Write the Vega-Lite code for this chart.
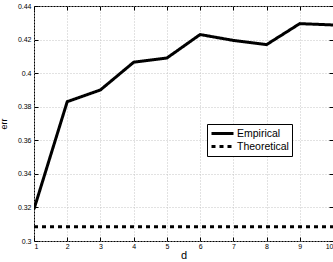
{
  "$schema": "https://vega.github.io/schema/vega-lite/v6.json",
  "autosize": "none",
  "width": 299,
  "height": 235,
  "padding": {"left": 34, "top": 6, "right": 0, "bottom": 21},
  "background": "white",
  "config": {
    "font": "Liberation Sans",
    "view": {"stroke": "black", "strokeWidth": 1}
  },
  "data": {
    "values": [
      {"d": 1, "err": 0.319, "series": "Empirical"},
      {"d": 2, "err": 0.383, "series": "Empirical"},
      {"d": 3, "err": 0.390, "series": "Empirical"},
      {"d": 4, "err": 0.4065, "series": "Empirical"},
      {"d": 5, "err": 0.409, "series": "Empirical"},
      {"d": 6, "err": 0.423, "series": "Empirical"},
      {"d": 7, "err": 0.4195, "series": "Empirical"},
      {"d": 8, "err": 0.417, "series": "Empirical"},
      {"d": 9, "err": 0.4295, "series": "Empirical"},
      {"d": 10, "err": 0.4287, "series": "Empirical"},
      {"d": 1, "err": 0.3085, "series": "Theoretical"},
      {"d": 2, "err": 0.3085, "series": "Theoretical"},
      {"d": 3, "err": 0.3085, "series": "Theoretical"},
      {"d": 4, "err": 0.3085, "series": "Theoretical"},
      {"d": 5, "err": 0.3085, "series": "Theoretical"},
      {"d": 6, "err": 0.3085, "series": "Theoretical"},
      {"d": 7, "err": 0.3085, "series": "Theoretical"},
      {"d": 8, "err": 0.3085, "series": "Theoretical"},
      {"d": 9, "err": 0.3085, "series": "Theoretical"},
      {"d": 10, "err": 0.3085, "series": "Theoretical"}
    ]
  },
  "resolve": {"axis": {"x": "independent", "y": "independent"}},
  "layer": [
    {
      "mark": {"type": "line", "strokeWidth": 3, "clip": true},
      "encoding": {
        "x": {
          "field": "d", "type": "quantitative",
          "scale": {"domain": [1, 10], "nice": false},
          "axis": {
            "orient": "bottom", "values": [1,2,3,4,5,6,7,8,9,10],
            "title": "d", "titleFontSize": 11, "titleFontWeight": "normal", "titlePadding": 0,
            "labelFontSize": 7, "labelPadding": 5, "tickSize": -4, "tickColor": "black",
            "domain": false, "grid": true, "gridDash": [1, 2], "gridColor": "#c4c4c4",
            "labelColor": "black", "titleColor": "black"
          }
        },
        "y": {
          "field": "err", "type": "quantitative",
          "scale": {"domain": [0.3, 0.44], "nice": false},
          "axis": {
            "orient": "left", "values": [0.3,0.32,0.34,0.36,0.38,0.4,0.42,0.44],
            "format": ".2~f",
            "title": "err", "titleFontSize": 9, "titleFontWeight": "normal", "titlePadding": 9,
            "labelFontSize": 7, "labelPadding": 7, "tickSize": -4, "tickColor": "black",
            "domain": false, "grid": true, "gridDash": [1, 2], "gridColor": "#c4c4c4",
            "labelColor": "black", "titleColor": "black"
          }
        },
        "color": {
          "field": "series", "type": "nominal",
          "scale": {"range": ["black", "black"]},
          "legend": {
            "title": null, "orient": "none", "legendX": 173, "legendY": 118,
            "strokeColor": "black", "fillColor": "white", "padding": 3,
            "symbolType": "stroke", "symbolSize": 484, "symbolStrokeWidth": 3,
            "clipHeight": 13,
            "labelFontSize": 10.5, "labelColor": "black", "rowPadding": 0, "labelOffset": 2
          }
        },
        "strokeDash": {
          "field": "series", "type": "nominal",
          "scale": {"range": [[1, 0], [4, 4]]},
          "legend": {
            "title": null, "orient": "none", "legendX": 173, "legendY": 118,
            "strokeColor": "black", "fillColor": "white", "padding": 3,
            "symbolType": "stroke", "symbolSize": 484, "symbolStrokeWidth": 3,
            "clipHeight": 13,
            "labelFontSize": 10.5, "labelColor": "black", "rowPadding": 0, "labelOffset": 2
          }
        }
      }
    },
    {
      "mark": {"type": "line", "opacity": 0},
      "encoding": {
        "x": {
          "field": "d", "type": "quantitative",
          "axis": {"orient": "top", "values": [1,2,3,4,5,6,7,8,9,10], "labels": false, "title": null,
                   "tickSize": -4, "tickColor": "black", "domain": false, "grid": false}
        },
        "y": {
          "field": "err", "type": "quantitative",
          "axis": {"orient": "right", "values": [0.3,0.32,0.34,0.36,0.38,0.4,0.42,0.44], "labels": false, "title": null,
                   "tickSize": -4, "tickColor": "black", "domain": false, "grid": false}
        }
      }
    }
  ]
}
